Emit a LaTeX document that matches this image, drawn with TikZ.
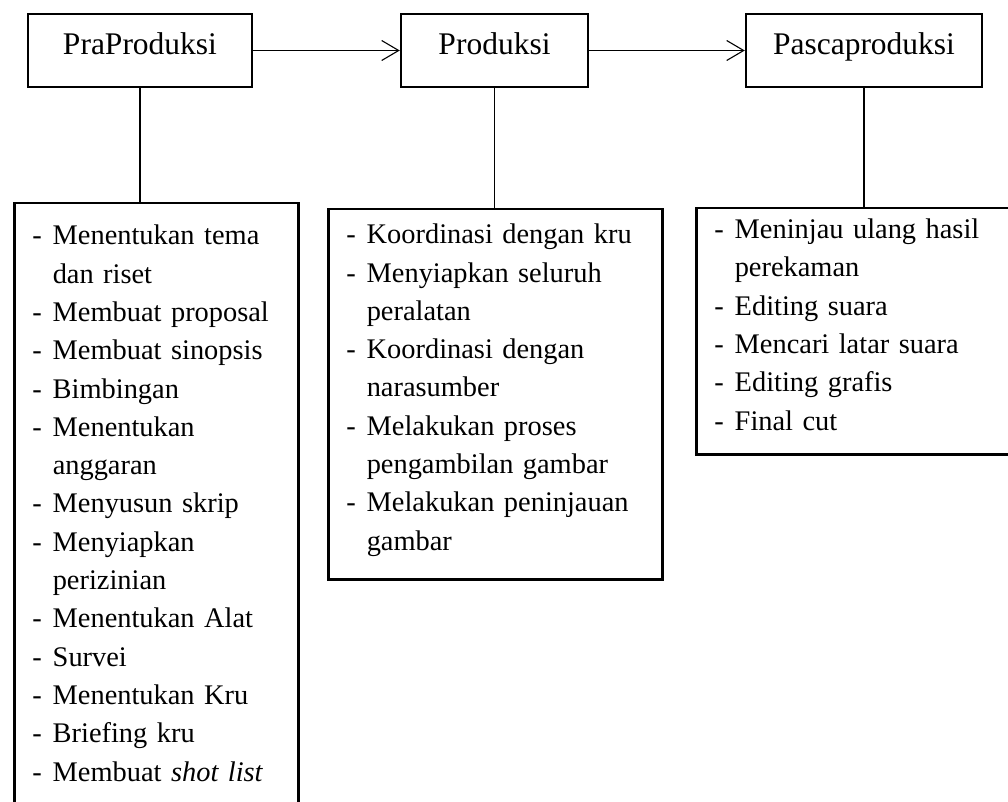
\documentclass[tikz,border=0pt]{standalone}
\usepackage{fontspec}
\setmainfont{Liberation Serif}
\usetikzlibrary{arrows.meta}
\begin{document}
\begin{tikzpicture}[x=1pt, y=-1pt,
    stage/.style={draw, line width=2.5pt, minimum height=73pt, inner sep=0pt,
      text height=22pt, text depth=13pt, font=\fontsize{31.5}{38}\selectfont},
    tasks/.style={draw, line width=2.5pt, anchor=north west, inner xsep=18pt,
      inner ysep=0pt, align=left, font=\fontsize{28.4}{38.3}\selectfont},
    flow/.style={line width=1.1pt, -{Straight Barb[length=17pt, width=20pt]}},
    link/.style={line width=1.1pt}]
  \useasboundingbox (0,0) rectangle (1008,802);
  \clip (0,0) rectangle (1008,802);
  % tahapan
  \node [stage, minimum width=224pt] (pra) at (140, 50.5) {PraProduksi};
  \node [stage, minimum width=187pt] (prod) at (494.5, 50.5) {Produksi};
  \node [stage, minimum width=236pt] (pasca) at (864, 50.5) {Pascaproduksi};
  \draw [flow] (pra) -- (prod);
  \draw [flow] (prod) -- (pasca);
  % daftar kegiatan
  \node [tasks, text width=248pt, minimum height=604pt] (pralist) at (13, 202) {%
    \begin{tabular}{@{}p{20.5pt}@{}l@{}}
      - & Menentukan tema\\
        & dan riset\\
      - & Membuat proposal\\
      - & Membuat sinopsis\\
      - & Bimbingan\\
      - & Menentukan\\
        & anggaran\\
      - & Menyusun skrip\\
      - & Menyiapkan\\
        & perizinian\\
      - & Menentukan Alat\\
      - & Survei\\
      - & Menentukan Kru\\
      - & Briefing kru\\
      - & Membuat \textit{shot list}
    \end{tabular}};
  \node [tasks, text width=298pt, minimum height=370pt] (prodlist) at (327, 208) {%
    \begin{tabular}{@{}p{20.5pt}@{}l@{}}
      - & Koordinasi dengan kru\\
      - & Menyiapkan seluruh\\
        & peralatan\\
      - & Koordinasi dengan\\
        & narasumber\\
      - & Melakukan proses\\
        & pengambilan gambar\\
      - & Melakukan peninjauan\\
        & gambar\\[10pt]
    \end{tabular}};
  \node [tasks, text width=299pt, minimum height=246pt] (pascalist) at (695, 207) {%
    \begin{tabular}{@{}p{20.5pt}@{}l@{}}
      - & Meninjau ulang hasil\\
        & perekaman\\
      - & Editing suara\\
      - & Mencari latar suara\\
      - & Editing grafis\\
      - & Final cut\\[9pt]
    \end{tabular}};
  \draw [link] (pra.south) -- (pra.south |- pralist.north);
  \draw [link] (prod.south) -- (prod.south |- prodlist.north);
  \draw [link] (pasca.south) -- (pasca.south |- pascalist.north);
\end{tikzpicture}
\end{document}
